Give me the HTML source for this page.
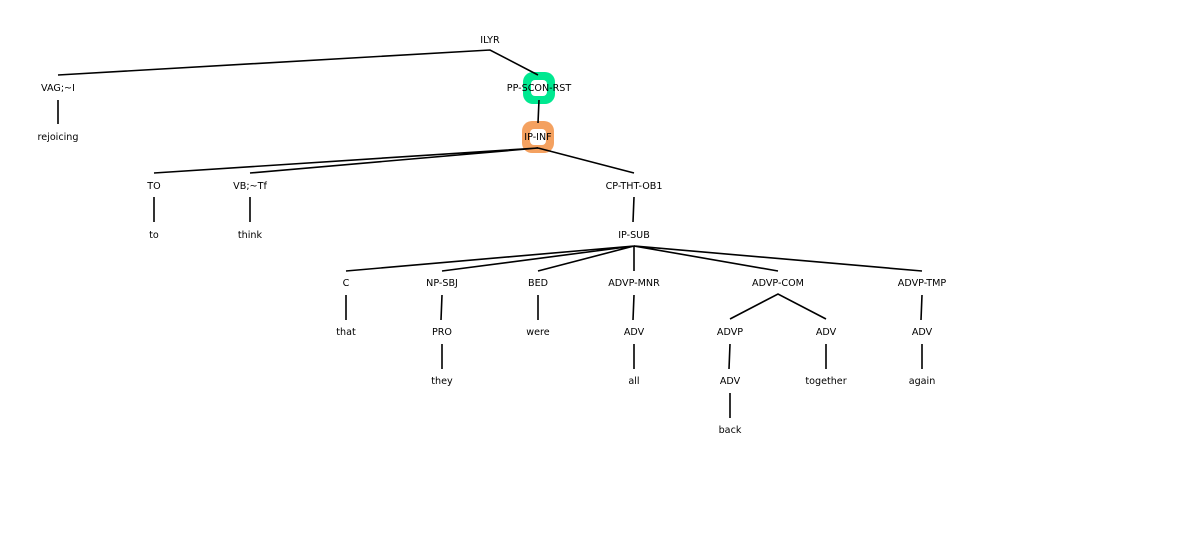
<!DOCTYPE html>
<html><head><style>body{margin:0;background:#fff}svg{display:block}text{font-family:"DejaVu Sans",sans-serif;font-size:9.6px;fill:#000}</style></head><body>
<svg width="1200" height="549" viewBox="0 0 1200 549">
<rect x="523" y="72" width="32" height="32" rx="10" fill="#00e890"/>
<rect x="531" y="80" width="16" height="16" rx="4" fill="#fff"/>
<rect x="522" y="121" width="32" height="32" rx="10" fill="#f4a160"/>
<rect x="530" y="129" width="16" height="16" rx="4" fill="#fff"/>
<g stroke="#000" stroke-width="1.6" fill="none">
<path d="M58 75L490 50L538 75"/>
<path d="M58 100V124M539 100L538 123"/>
<path d="M154 173L538 148L250 173M538 148L634 173"/>
<path d="M154 197V222M250 197V222M634 197L633 222"/>
<path d="M346 271L634 246L442 271M538 271L634 246L634 271M778 271L634 246L922 271"/>
<path d="M346 295V320M442 295L441 320M538 295V320M634 295L633 320M730 319L778 294L826 319M922 295L921 320"/>
<path d="M442 344V369M634 344V369M730 344L729 369M826 344V369M922 344V369M730 393V418"/>
</g>
<g text-anchor="middle">
<text x="490" y="43">ILYR</text>
<text x="58" y="91">VAG;~I</text><text x="539" y="91">PP-SCON-RST</text>
<text x="58" y="140">rejoicing</text><text x="538" y="140">IP-INF</text>
<text x="154" y="189">TO</text><text x="250" y="189">VB;~Tf</text><text x="634" y="189">CP-THT-OB1</text>
<text x="154" y="238">to</text><text x="250" y="238">think</text><text x="634" y="238">IP-SUB</text>
<text x="346" y="286">C</text><text x="442" y="286">NP-SBJ</text><text x="538" y="286">BED</text><text x="634" y="286">ADVP-MNR</text><text x="778" y="286">ADVP-COM</text><text x="922" y="286">ADVP-TMP</text>
<text x="346" y="335">that</text><text x="442" y="335">PRO</text><text x="538" y="335">were</text><text x="634" y="335">ADV</text><text x="730" y="335">ADVP</text><text x="826" y="335">ADV</text><text x="922" y="335">ADV</text>
<text x="442" y="384">they</text><text x="634" y="384">all</text><text x="730" y="384">ADV</text><text x="826" y="384">together</text><text x="922" y="384">again</text>
<text x="730" y="433">back</text>
</g>
</svg>
</body></html>
